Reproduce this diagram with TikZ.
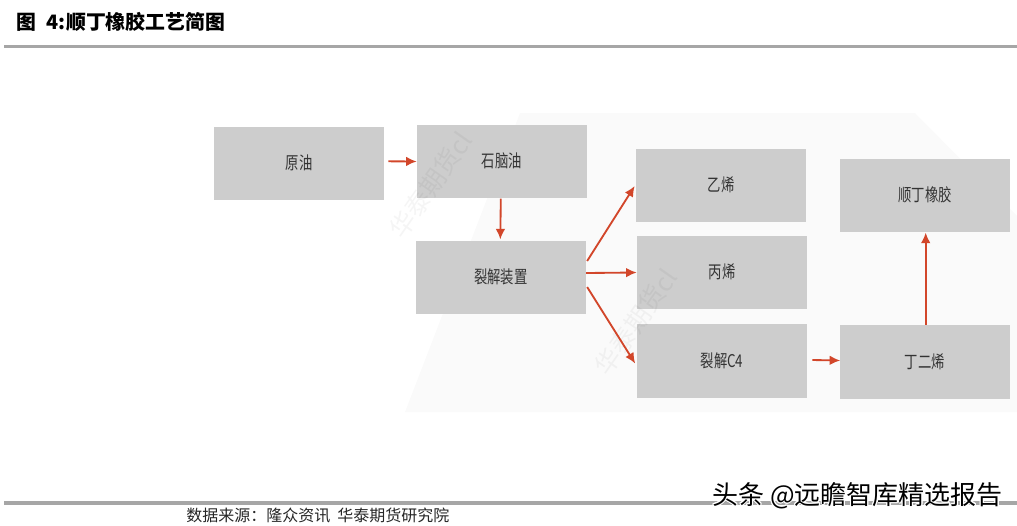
\documentclass[tikz,border=0pt]{standalone}
\usepackage{fontspec}
\setmainfont{Noto Sans CJK SC}
\newfontfamily\boxfont[FakeStretch=0.76]{Noto Sans CJK SC}
\usepackage{xcolor}
\usepackage{contour}
\contourlength{0.5pt}
\usetikzlibrary{arrows.meta}
\definecolor{boxgray}{HTML}{CDCDCD}
\definecolor{rulegray}{HTML}{A6A6A6}
\definecolor{flowred}{HTML}{D2462A}
\definecolor{shadegray}{HTML}{FAFAFA}
\tikzset{%
	process/.style = {fill=boxgray, minimum width=3.4cm, minimum height=1.47cm, inner sep=0pt, text depth=0.14em, text=black!80, font=\boxfont\fontsize{10}{12}\selectfont},
	arrow/.style   = {draw=flowred, line width=1.05pt, -{Latex[length=6pt,width=5.5pt]}},
	stamp/.style   = {text=black, text opacity=0.04, rotate=55, inner sep=0pt, font=\fontsize{14.5}{16}\selectfont},
	headrule/.style= {draw=rulegray, line width=1.8pt},
}
\begin{document}
\begin{tikzpicture}[x=0.02cm,y=-0.02cm]
	\useasboundingbox (0,0) rectangle (1017,525);
	\fill[shadegray] (405,412) -- (520,113) -- (915,113) -- (1017,216) -- (1017,412) -- cycle; % pale backdrop
	\node[anchor=west,inner sep=0pt,font=\bfseries\fontsize{11.3}{13}\selectfont] (title) at (16,22) {图\hspace{0.5em}4:\hspace{0.05em}顺丁橡胶工艺简图};
	\coordinate (ruleAl) at (4,46.5);
	\coordinate (ruleAr) at (1017,46.5);
	\coordinate (ruleBl) at (4,503);
	\coordinate (ruleBr) at (1017,503);
	\draw[headrule] (ruleAl) -- (ruleAr);
	\draw[headrule] (ruleBl) -- (ruleBr);
	% boxes
	\node[process] (crude)   at (299,163.5) {原油};
	\node[process] (naphtha) at (502,161.5) {石脑油};
	\node[process] (cracker) at (500.8,277.5) {裂解装置};
	\node[process] (ethene)  at (721,185.5) {乙烯};
	\node[process] (propene) at (722,272.5) {丙烯};
	\node[process] (ccfour)  at (722,361)   {裂解C4};
	\node[process] (rubber)  at (925,195.5) {顺丁橡胶};
	\node[process] (diene)   at (925,362)   {丁二烯};
	% watermarks
	\node[stamp] (markA) at (431,185) {华泰期货cl};
	\node[stamp] (markB) at (636,322) {华泰期货cl};
	% flows
	\draw[arrow] ([shift={(4,-2.2)}]crude.east) -- (naphtha.west);
	\draw[arrow] ([shift={(-1.2,0)}]naphtha.south) -- ([shift={(-0.5,-1)}]cracker.north);
	\draw[arrow] ([shift={(1,-16.5)}]cracker.east) -- ([shift={(-1,0.5)}]ethene.west);
	\draw[arrow] ([shift={(0,-4.5)}]cracker.east) -- (propene.west);
	\draw[arrow] ([shift={(1,9.5)}]cracker.east) -- ([shift={(-1.5,2.5)}]ccfour.west);
	\draw[arrow] ([shift={(5,-1)}]ccfour.east) -- ([shift={(0.5,-1.5)}]diene.west);
	\draw[arrow] ([shift={(0.7,0)}]diene.north) -- ([shift={(0.7,0)}]rubber.south);
	% source line
	\node[anchor=west,inner sep=0pt,text=black!85,font=\fontsize{9.1}{11}\selectfont] (source) at (186,515) {数据来源：隆众资讯\hspace{0.45em}华泰期货研究院};
	\node[anchor=west,inner sep=0pt,font=\fontsize{14.8}{17}\selectfont] (logo) at (712,496) {\contour{white}{头条 @远瞻智库精选报告}};
\end{tikzpicture}
\end{document}
